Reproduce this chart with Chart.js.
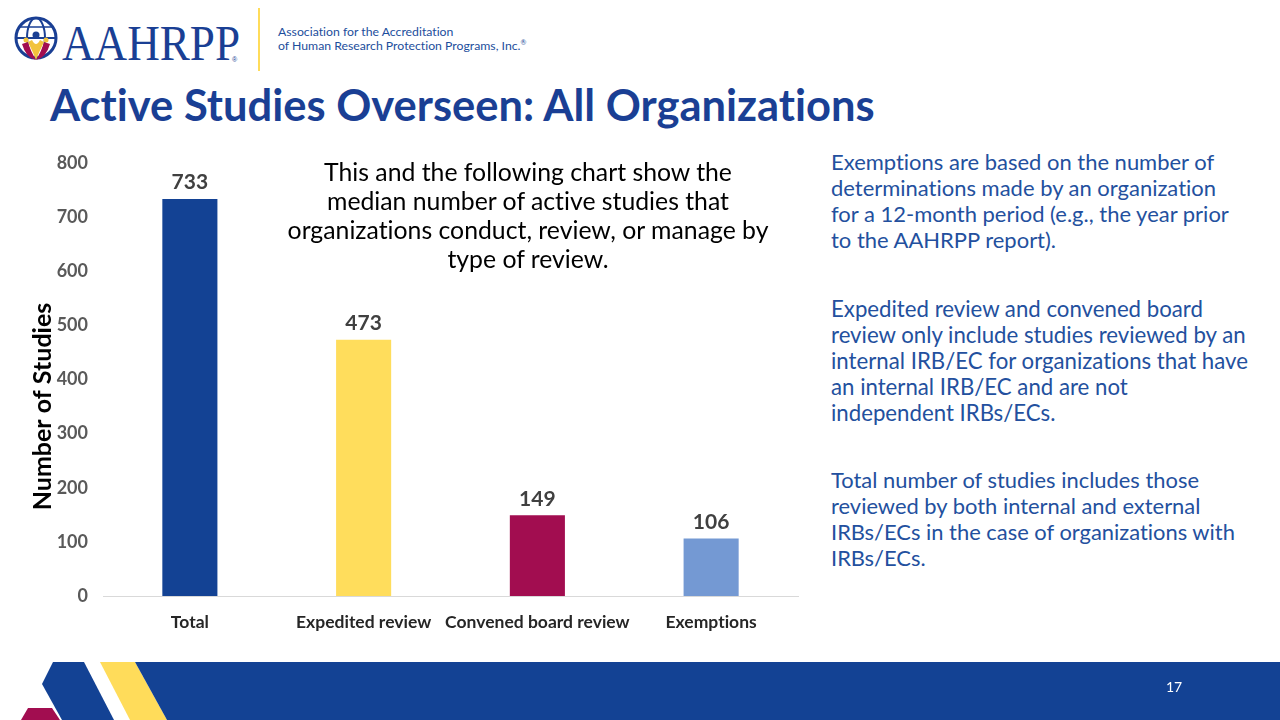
<!DOCTYPE html>
<html>
<head>
<meta charset="utf-8">
<script src="https://cdn.jsdelivr.net/npm/chart.js@4.4.1/dist/chart.umd.min.js"></script>
<style>
  html, body { margin: 0; padding: 0; background: #fff; }
  body { width: 1280px; height: 720px; position: relative; overflow: hidden; font-family: 'Lato', 'Open Sans', sans-serif; font-variant-ligatures: none; }
  .abs { position: absolute; }
  .fit { white-space: nowrap; display: inline-block; }
  #title { left: 50px; top: 78px; font-weight: 700; font-size: 42px; color: #1a3f94; line-height: 1.2; }
  #tagline { left: 278px; top: 25px; font-size: 13px; color: #1c4e9c; line-height: 14px; }
  #note { left: 270px; top: 157px; width: 516px; text-align: center; font-size: 23px; color: #000; line-height: 29px; }
  #note span { line-height: 29px; }
  .side { left: 831px; font-size: 20px; color: #23509e; line-height: 26px; }
  #side1 { top: 149px; }
  #side2 { top: 296px; }
  #side3 { top: 467px; }
  #pagenum { left: 1166px; top: 678px; font-size: 14px; color: #fff; }
  #chartBox { left: 30px; top: 145px; width: 780px; height: 500px; }
</style>
</head>
<body>

<!-- logo -->
<svg class="abs" style="left:0;top:0" width="270" height="80">
  <circle cx="36" cy="38" r="20" fill="none" stroke="#1a3f94" stroke-width="3"/>
  <ellipse cx="36" cy="38" rx="9" ry="20" fill="none" stroke="#1a3f94" stroke-width="2"/>
  <line x1="16" y1="38" x2="56" y2="38" stroke="#1a3f94" stroke-width="2"/>
  <line x1="20" y1="27" x2="52" y2="27" stroke="#1a3f94" stroke-width="1.5"/>
  <path d="M22 44 Q26 58 36 60 Q30 50 28 42 Z" fill="#a20d50"/>
  <path d="M50 44 Q46 58 36 60 Q42 50 44 42 Z" fill="#a20d50"/>
  <path d="M28 42 Q33 52 36 60 Q39 52 44 42 L40 40 Q36 48 32 40 Z" fill="#f2c33d"/>
  <circle cx="36" cy="35" r="3.5" fill="#1a3f94"/>
  <circle cx="26" cy="40" r="2.5" fill="#f2c33d"/>
  <circle cx="46" cy="40" r="2.5" fill="#f2c33d"/>
  <text x="62" y="60" font-family="Liberation Serif, DejaVu Serif, serif" font-size="50" fill="#1a3f94" textLength="178" lengthAdjust="spacingAndGlyphs">AAHRPP</text>
  <text x="232" y="62" font-family="Liberation Sans, sans-serif" font-size="7" fill="#1a3f94">®</text>
  <line x1="259" y1="8" x2="259" y2="71" stroke="#ffdc5a" stroke-width="2"/>
</svg>
<div id="tagline" class="abs fit">Association for the Accreditation<br>of Human Research Protection Programs, Inc.<sup style="font-size:7px;line-height:0">®</sup></div>

<div id="title" class="abs fit">Active Studies Overseen: All Organizations</div>

<div id="chartBox" class="abs"><canvas id="chart"></canvas></div>

<div id="note" class="abs">
  <span class="fit" id="noteInner">This and the following chart show the<br>median number of active studies that<br>organizations conduct, review, or manage by<br>type of review.</span>
</div>

<div id="side1" class="abs side fit">Exemptions are based on the number of<br>determinations made by an organization<br>for a 12-month period (e.g., the year prior<br>to the AAHRPP report).</div>
<div id="side2" class="abs side fit">Expedited review and convened board<br>review only include studies reviewed by an<br>internal IRB/EC for organizations that have<br>an internal IRB/EC and are not<br>independent IRBs/ECs.</div>
<div id="side3" class="abs side fit">Total number of studies includes those<br>reviewed by both internal and external<br>IRBs/ECs in the case of organizations with<br>IRBs/ECs.</div>

<!-- footer band -->
<svg class="abs" style="left:0;top:640px" width="1280" height="80">
  <polygon points="28,68 52,68 60,80 21,80" fill="#a20d50"/>
  <polygon points="53,22 84,22 114,80 62,80 42,44" fill="#134294"/>
  <polygon points="100,22 135,22 167,80 130,80" fill="#ffdc5a"/>
  <polygon points="135,22 1280,22 1280,80 167,80" fill="#134294"/>
</svg>
<div id="pagenum" class="abs">17</div>

<script>
const categories = ['Total', 'Expedited review', 'Convened board review', 'Exemptions'];
const medianStudies = [733, 473, 149, 106];
const barColors = ['#134294', '#ffdd5c', '#a20d50', '#7499d3'];
const yMin = 0, yMax = 800, yStep = 100;
const yTitle = 'Number of Studies';

// fit text blocks to the widths measured on the slide
function fitWidth(id, target) {
  const el = document.getElementById(id);
  const w = el.getBoundingClientRect().width;
  const fs = parseFloat(getComputedStyle(el).fontSize);
  el.style.fontSize = (fs * target / w) + 'px';
}
fitWidth('title', 825);
fitWidth('tagline', 248);
fitWidth('noteInner', 481);
fitWidth('side1', 398);
fitWidth('side2', 417);
fitWidth('side3', 404);

const valueLabels = {
  id: 'valueLabels',
  afterDatasetsDraw(chart) {
    const ctx = chart.ctx;
    const meta = chart.getDatasetMeta(0);
    ctx.save();
    ctx.font = 'bold 21px Lato, sans-serif';
    ctx.fillStyle = '#404040';
    ctx.textAlign = 'center';
    ctx.textBaseline = 'bottom';
    meta.data.forEach((bar, i) => {
      ctx.fillText(String(medianStudies[i]), bar.x, bar.y - 6);
    });
    ctx.restore();
  }
};

// y-axis title sits a bit below the middle of the axis on the slide
const axisTitle = {
  id: 'axisTitle',
  afterDraw(chart) {
    const ctx = chart.ctx;
    const y = chart.scales.y;
    ctx.save();
    ctx.translate(13, y.getPixelForValue(350));
    ctx.rotate(-Math.PI / 2);
    ctx.font = 'bold 25px Lato, sans-serif';
    ctx.fillStyle = '#000';
    ctx.textAlign = 'center';
    ctx.textBaseline = 'middle';
    ctx.fillText(yTitle, 0, 0);
    ctx.restore();
  }
};

new Chart(document.getElementById('chart'), {
  type: 'bar',
  data: {
    labels: categories,
    datasets: [{ data: medianStudies, backgroundColor: barColors, categoryPercentage: 1, barPercentage: 0.317 }],
  },
  options: {
    responsive: true, maintainAspectRatio: false, animation: false,
    layout: { padding: { top: 9, right: 12, left: 0, bottom: 0 } },
    plugins: { legend: { display: false }, tooltip: { enabled: false } },
    scales: {
      x: {
        grid: { display: false },
        border: { color: '#d9d9d9', width: 1 },
        ticks: { font: { family: 'Lato', size: 17.5, weight: 'bold' }, color: '#262626', padding: 8, maxRotation: 0, autoSkip: false },
        afterFit(scale) { scale.height = 49; },
      },
      y: {
        min: yMin, max: yMax,
        grid: { display: false },
        border: { display: false },
        ticks: { stepSize: yStep, font: { family: 'Lato', size: 18, weight: 'bold' }, color: '#595959', padding: 7 },
        title: { display: false },
        afterFit(scale) { scale.width = 73; },
      },
    },
  },
  plugins: [valueLabels, axisTitle],
});
</script>
</body>
</html>
